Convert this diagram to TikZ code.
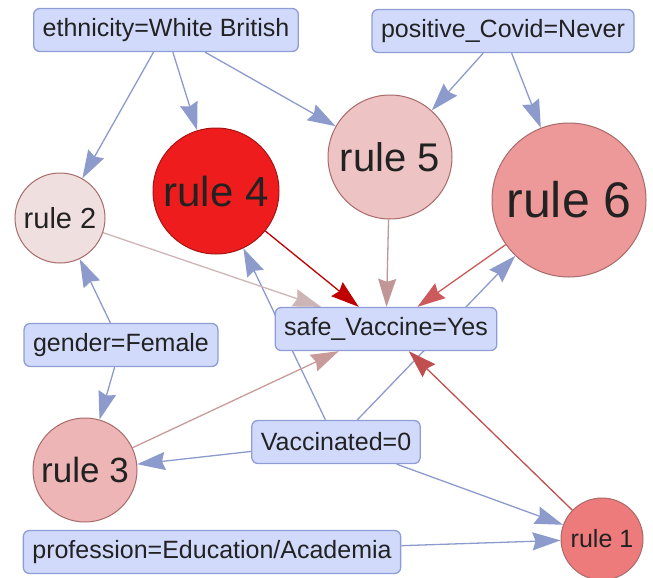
\documentclass[tikz,border=0pt]{standalone}
\usepackage{fontspec}
\setmainfont{Liberation Sans}
\usetikzlibrary{arrows.meta,backgrounds}
\definecolor{boxfill}{HTML}{D2DAFC}
\definecolor{boxdraw}{HTML}{8F9CD6}
\definecolor{edgeblue}{HTML}{8C9ACC}
\definecolor{txt}{HTML}{222222}
\definecolor{rfour}{HTML}{EE1C1C}
\definecolor{rsix}{HTML}{EE9999}
\definecolor{rfive}{HTML}{EEC3C3}
\definecolor{rtwo}{HTML}{F0DFDF}
\definecolor{rthree}{HTML}{EDB5B5}
\definecolor{rone}{HTML}{EE7B7B}
\definecolor{rborder}{HTML}{A86A6A}
\definecolor{efour}{HTML}{C00000}
\definecolor{esix}{HTML}{CC5A5A}
\definecolor{eone}{HTML}{C05050}
\definecolor{efive}{HTML}{C09696}
\definecolor{ethree}{HTML}{C99A9A}
\definecolor{etwo}{HTML}{CDB5B5}
\begin{document}
\begin{tikzpicture}[x=1pt,y=-1pt,
  attr/.style={draw=boxdraw, fill=boxfill, line width=1.3pt, rounded corners=6pt,
    inner xsep=9pt, inner ysep=0pt, minimum height=43pt, text=txt,
    font=\fontsize{25}{30}\selectfont},
  rulenode/.style={circle, inner sep=0pt, line width=1pt, draw=rborder, text=txt},
  tip/.style={-{Stealth[length=28pt,width=18pt,inset=3pt]}},
  bedge/.style={draw=edgeblue, line width=1.3pt, tip},
  redge/.style={line width=1.3pt, tip}
]
\useasboundingbox (0,0) rectangle (653,578);
% attribute boxes
\node[attr] (eth) at (166,30) {ethnicity=White British};
\node[attr] (cov) at (503,31) {positive\_Covid=Never};
\node[attr] (safe) at (386,329) {safe\_Vaccine=Yes};
\node[attr] (gen) at (121,345) {gender=Female};
\node[attr] (vac) at (336,442) {Vaccinated=0};
\node[attr] (prof) at (212,552) {profession=Education/Academia};
% rule circles
\node[rulenode, fill=rfour, draw=rfour!70!black, minimum size=126pt, font=\fontsize{42}{48}\selectfont] (r4) at (216,191) {rule 4};
\node[rulenode, fill=rfive, minimum size=124pt, font=\fontsize{40}{46}\selectfont] (r5) at (390,157) {rule 5};
\node[rulenode, fill=rsix, minimum size=154pt, font=\fontsize{50}{56}\selectfont] (r6) at (569,200) {rule 6};
\node[rulenode, fill=rtwo, minimum size=90pt, font=\fontsize{29}{34}\selectfont] (r2) at (60,218) {rule 2};
\node[rulenode, fill=rthree, minimum size=104pt, font=\fontsize{35}{40}\selectfont] (r3) at (85,470) {rule 3};
\node[rulenode, fill=rone, minimum size=82pt, font=\fontsize{25}{30}\selectfont] (r1) at (602,539) {rule 1};
\begin{pgfonlayer}{background}
\draw[bedge] (eth) -- (r2);
\draw[bedge] (eth) -- (r4);
\draw[bedge] (eth) -- (r5);
\draw[bedge] (cov) -- (r5);
\draw[bedge] (cov) -- (r6);
\draw[bedge] (gen) -- (r2);
\draw[bedge] (gen) -- (r3);
\draw[bedge] (vac) -- (r4);
\draw[bedge] (vac) -- (r6);
\draw[bedge] (vac) -- (r3);
\draw[bedge] (vac) -- (r1);
\draw[bedge] (prof) -- (r1);
\draw[redge, draw=efour] (r4) -- (safe);
\draw[redge, draw=efive] (r5) -- (safe);
\draw[redge, draw=esix] (r6) -- (safe);
\draw[redge, draw=etwo] (r2) -- (safe);
\draw[redge, draw=ethree] (r3) -- (safe);
\draw[redge, draw=eone] (r1) -- (safe);
\end{pgfonlayer}
\end{tikzpicture}
\end{document}
